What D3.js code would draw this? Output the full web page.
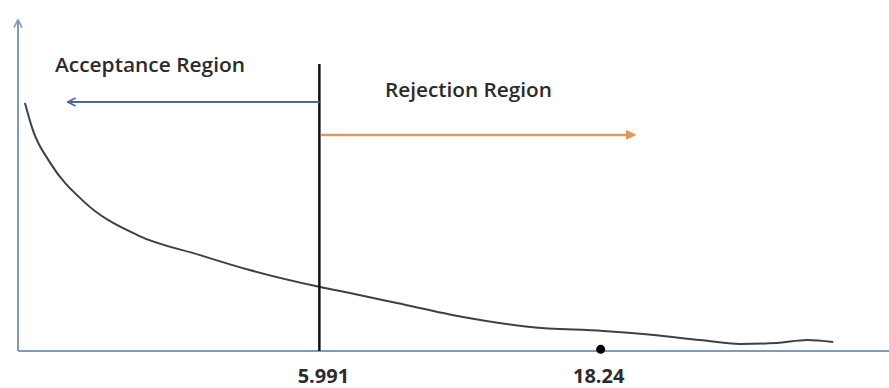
<!DOCTYPE html>
<html>
<head>
<meta charset="utf-8">
<script src="https://cdn.jsdelivr.net/npm/d3@7"></script>
<style>
  body { margin: 0; background: #fff; }
  svg { display: block; }
  text { font-family: "Open Sans", sans-serif; fill: #2b2b2b; }
</style>
</head>
<body>
<svg id="drawing_region"></svg>
<script>
// schematic units: x 0..100 along the axis, y 0..100 up the axis
const curveX = [0.8, 1.7, 3.7, 7.5, 13.7, 20.9, 26.6, 34.7, 38.1, 43.5, 51.1, 58.8, 67.2, 73.0, 78.3, 82.9, 87.1, 90.6, 93.6];
const curveY = [74.5, 66.4, 56.5, 45.0, 34.8, 28.8, 24.3, 19.2, 17.4, 14.4, 10.2, 7.2, 6.0, 4.8, 3.3, 2.1, 2.4, 3.3, 2.7];

const tickLabels = ["5.991", "18.24"];
const tickPos = [34.6, 66.9];

const regionLabels = ["Acceptance Region", "Rejection Region"];
const criticalTop = 86.2;
const acceptArrow = {y: 74.8, x0: 34.6, x1: 5.7};
const rejectArrow = {y: 64.9, x0: 34.8, x1: 70.8};

const width = 889, height = 388;
const svg = d3.select("#drawing_region").attr("width", width).attr("height", height);

const x = d3.scaleLinear().domain([0, 100]).range([18, 889]);
const y = d3.scaleLinear().domain([0, 100]).range([351, 18]);

const defs = svg.append("defs");
function chevron(id, color, filled) {
    defs.append("marker")
        .attr("id", id)
        .attr("viewBox", "0 0 10 10")
        .attr("refX", 9).attr("refY", 5)
        .attr("markerWidth", 10).attr("markerHeight", 10)
        .attr("markerUnits", "userSpaceOnUse")
        .attr("orient", "auto")
        .append("path")
        .attr("d", filled ? "M1,1 L9,5 L1,9 Z" : "M1,1 L9,5 L1,9")
        .attr("fill", filled ? color : "none")
        .attr("stroke", color)
        .attr("stroke-width", 1.6)
        .attr("stroke-linejoin", "round");
}
chevron("axisHead", "#7f9bb8", false);
chevron("blueHead", "#4c6a98", false);
chevron("orangeHead", "#dd9a5c", true);

// axes
svg.append("line")
    .attr("x1", x(0)).attr("x2", x(0))
    .attr("y1", y(0)).attr("y2", y(99.5))
    .attr("stroke", "#7f9bb8").attr("stroke-width", 2)
    .attr("marker-end", "url(#axisHead)");
svg.append("line")
    .attr("x1", x(0)).attr("x2", x(100))
    .attr("y1", y(0)).attr("y2", y(0))
    .attr("stroke", "#7f9bb8").attr("stroke-width", 2);

// curve
const pts = curveX.map((d, i) => [d, curveY[i]]);
svg.append("path")
    .datum(pts)
    .attr("fill", "none")
    .attr("stroke", "#3c4049")
    .attr("stroke-width", 2)
    .attr("d", d3.line().x(d => x(d[0])).y(d => y(d[1])).curve(d3.curveMonotoneX));

// critical value line
svg.append("line")
    .attr("x1", x(tickPos[0])).attr("x2", x(tickPos[0]))
    .attr("y1", y(criticalTop)).attr("y2", y(0))
    .attr("stroke", "#111").attr("stroke-width", 2.5);

// region arrows
svg.append("line")
    .attr("x1", x(acceptArrow.x0)).attr("x2", x(acceptArrow.x1))
    .attr("y1", y(acceptArrow.y)).attr("y2", y(acceptArrow.y))
    .attr("stroke", "#4c6a98").attr("stroke-width", 2)
    .attr("marker-end", "url(#blueHead)");
svg.append("line")
    .attr("x1", x(rejectArrow.x0)).attr("x2", x(rejectArrow.x1))
    .attr("y1", y(rejectArrow.y)).attr("y2", y(rejectArrow.y))
    .attr("stroke", "#dd9a5c").attr("stroke-width", 2.5)
    .attr("marker-end", "url(#orangeHead)");

// labels
svg.append("text").text(regionLabels[0])
    .attr("x", 55).attr("y", 72)
    .attr("font-size", 20)
    .attr("font-weight", 600)
    .attr("textLength", 190).attr("lengthAdjust", "spacingAndGlyphs");
svg.append("text").text(regionLabels[1])
    .attr("x", 385).attr("y", 97)
    .attr("font-size", 20)
    .attr("font-weight", 600)
    .attr("textLength", 167).attr("lengthAdjust", "spacingAndGlyphs");

svg.selectAll(".tick-label")
    .data(tickLabels)
    .join("text")
    .attr("class", "tick-label")
    .attr("x", (d, i) => x(tickPos[i]) + (i === 0 ? 4 : -2))
    .attr("y", 383)
    .attr("text-anchor", "middle")
    .attr("font-size", 20)
    .attr("font-weight", "bold")
    .attr("fill", "#222")
    .text(d => d);

// observed statistic
svg.append("circle")
    .attr("cx", x(tickPos[1])).attr("cy", y(0.5))
    .attr("r", 4.5)
    .attr("fill", "#000");
</script>
</body>
</html>
